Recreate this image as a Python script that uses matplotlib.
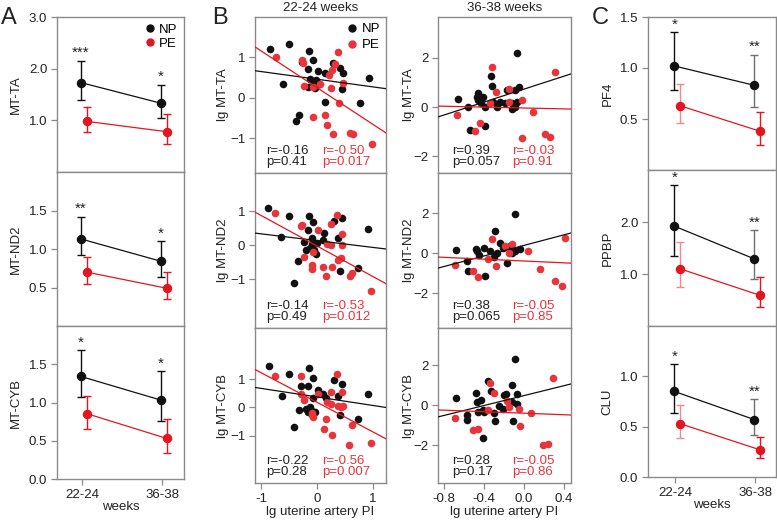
import matplotlib
matplotlib.use('Agg')
import matplotlib.pyplot as plt
from matplotlib.lines import Line2D
import numpy as np

plt.rcParams['font.family'] = ['Liberation Sans', 'DejaVu Sans']

# ---------------- data ----------------
weeks = ['22-24', '36-38']

# Panel A (mean, lower, upper) per gene, per week
a_genes = ['MT-TA', 'MT-ND2', 'MT-CYB']
a_np_mean = [[1.73, 1.33], [1.13, 0.84], [1.34, 1.03]]
a_np_low = [[1.39, 1.04], [0.92, 0.64], [1.07, 0.76]]
a_np_high = [[2.15, 1.69], [1.42, 1.10], [1.68, 1.41]]
a_pe_mean = [[0.98, 0.78], [0.70, 0.49], [0.855, 0.53]]
a_pe_low = [[0.77, 0.55], [0.55, 0.35], [0.66, 0.34]]
a_pe_high = [[1.25, 1.12], [0.90, 0.70], [1.09, 0.79]]
a_stars = [['***', '*'], ['**', '*'], ['*', '*']]
a_ylims = [(0, 3.0), (0, 2.0), (0, 2.0)]
a_yticks = [[1.0, 2.0, 3.0], [0.5, 1.0, 1.5], [0.0, 0.5, 1.0, 1.5]]

# Panel C
c_genes = ['PF4', 'PPBP', 'CLU']
c_np_mean = [[1.02, 0.83], [1.92, 1.29], [0.85, 0.57]]
c_np_low = [[0.78, 0.62], [1.35, 0.90], [0.64, 0.42]]
c_np_high = [[1.35, 1.13], [2.71, 1.84], [1.12, 0.77]]
c_pe_mean = [[0.63, 0.38], [1.10, 0.59], [0.53, 0.27]]
c_pe_low = [[0.46, 0.25], [0.75, 0.37], [0.39, 0.19]]
c_pe_high = [[0.84, 0.57], [1.61, 0.94], [0.72, 0.40]]
c_stars = [['*', '**'], ['*', '**'], ['*', '**']]
c_ylims = [(0, 1.5), (0, 3.0), (0, 1.5)]
c_yticks = [[0.5, 1.0, 1.5], [1.0, 2.0], [0.0, 0.5, 1.0]]

# Panel B scatter data: lg uterine artery PI (x) vs lg gene (y)
b_genes = ['lg MT-TA', 'lg MT-ND2', 'lg MT-CYB']

# 22-24 weeks
ta22_np_x = [-0.84, -0.50, -0.61, -0.14, -0.07, -0.16, 0.02, 0.14, -0.12, -0.07, -0.16, -0.04, 0.14,
             -0.32, -0.38, -0.27, 0.29, 0.41, 0.46, 0.45, 0.93, 0.77, -0.02, -0.05, 0.04]
ta22_np_y = [1.21, 1.33, 0.35, 1.16, 0.94, 0.72, 0.67, 0.62, 0.47, 0.42, 0.27, 0.25, -0.10,
             -0.42, -0.57, 0.89, 0.86, 0.74, 0.62, 0.22, 0.49, -0.12, 0.44, 0.30, 0.35]
ta22_pe_x = [-0.73, -0.27, -0.25, -0.23, -0.07, 0.05, -0.07, 0.14, 0.18, 0.21, 0.38, 0.27, 0.32,
             0.25, 0.46, 0.39, 0.29, 0.59, 0.64, 0.98]
ta22_pe_y = [1.02, 0.94, 0.86, 0.30, 0.27, 0.35, -0.47, -0.42, -0.67, 0.57, 1.13, 0.69, 0.83,
             0.25, 0.37, -0.12, -0.89, -0.86, -0.90, -1.14]

nd22_np_x = [-0.87, -0.64, -0.50, -0.14, -0.07, -0.16, -0.09, -0.23, -0.20, -0.12, -0.05, -0.02,
             0.00, 0.13, 0.11, 0.30, 0.45, 0.38, 0.91, 0.73, 0.41, -0.34, -0.41, -0.10]
nd22_np_y = [1.09, 0.24, 0.85, 0.85, 0.68, 0.44, 0.21, 0.09, -0.15, -0.09, -0.15, -0.26,
             0.06, 0.35, 0.15, 0.71, 0.79, 0.21, 0.47, -0.68, -0.76, -0.47, -1.12, 0.03]
nd22_pe_x = [-0.75, -0.29, -0.27, 0.02, 0.25, 0.36, 0.45, 0.18, 0.25, 0.45, -0.23, -0.07, 0.43,
             0.38, -0.09, -0.09, 0.11, 0.27, 0.16, 0.59, 0.63, 0.96]
nd22_pe_y = [0.94, 0.56, 0.60, 0.44, 0.62, 0.88, 0.32, 0.03, 0.00, 0.00, -0.35, -0.21, -0.38,
             -0.44, -0.59, -0.71, -0.65, -0.65, -0.91, -0.91, -0.82, -1.35]

cy22_np_x = [-0.86, -0.63, -0.50, -0.14, -0.07, -0.29, -0.16, 0.02, -0.07, 0.11, 0.16, 0.30, 0.45,
             0.38, 0.91, -0.32, -0.20, -0.12, -0.09, -0.03, -0.16, 0.41, 0.73, -0.41]
cy22_np_y = [1.44, 0.42, 1.19, 1.37, 1.05, 0.74, 0.74, 0.63, 0.35, 0.49, 0.32, 0.98, 0.84,
             0.42, 0.49, -0.10, -0.05, 0.00, -0.12, -0.17, -0.15, -0.25, -0.42, -0.70]
cy22_pe_x = [-0.75, -0.29, -0.23, -0.29, 0.02, 0.25, 0.36, 0.45, 0.18, 0.25, 0.38, 0.46, 0.42,
             -0.09, -0.07, -0.10, 0.16, 0.13, 0.27, 0.63, 0.57, 0.96]
cy22_pe_y = [1.12, 1.12, 0.25, 0.49, 0.49, 0.56, 1.19, 0.56, 0.18, 0.14, 0.07, 0.07, 0.00,
             -0.18, -0.32, -0.25, -0.39, -0.74, -0.98, -0.60, -1.33, -1.23]

# 36-38 weeks
ta36_np_x = [-0.66, -0.56, -0.47, -0.46, -0.54, -0.07, -0.33, -0.32, -0.46, -0.41, -0.43, -0.39,
             -0.31, -0.27, -0.24, -0.19, -0.17, -0.09, -0.05, -0.12, -0.07, -0.12, -0.09, -0.39]
ta36_np_y = [0.33, 0.00, 0.40, 0.29, -0.94, 2.20, 1.27, 0.86, 0.57, 0.41, 0.16, 0.00,
             0.20, 0.00, 0.20, 0.16, 0.69, 0.69, 0.82, 0.16, 0.20, -0.08, 0.00, -0.78]
ta36_pe_x = [-0.67, -0.49, -0.32, -0.28, -0.34, -0.15, -0.15, -0.02, 0.09, 0.31, -0.44, -0.02,
             0.21, 0.26]
ta36_pe_y = [-0.33, -0.98, 1.63, 0.61, 0.16, 0.73, 0.20, 0.29, -0.20, 1.43, -0.65, -1.27,
             -1.10, -1.22]

nd36_np_x = [-0.68, -0.57, -0.56, -0.48, -0.47, -0.09, -0.29, -0.24, -0.40, -0.34, -0.27, -0.21,
             -0.14, -0.09, -0.04, -0.17, -0.39, -0.12, -0.30, -0.45]
nd36_np_y = [0.15, -0.40, -0.90, 0.20, 0.10, 1.95, 1.10, 0.50, 0.25, 0.10, 0.00, 0.25,
             0.35, 0.10, 0.20, -0.50, -1.15, 0.00, -0.20, -0.10]
nd36_pe_x = [-0.69, -0.51, -0.46, -0.32, -0.19, -0.12, 0.04, 0.41, -0.36, -0.28, 0.16, 0.31,
             0.38, -0.15]
nd36_pe_y = [-0.60, -0.90, -1.20, 0.70, 0.35, 0.45, 0.10, 0.75, -0.30, -0.65, -0.80, -1.40,
             -1.65, 0.00]

cy36_np_x = [-0.68, -0.57, -0.57, -0.48, -0.47, -0.09, -0.36, -0.33, -0.43, -0.46, -0.41, -0.40,
             -0.30, -0.25, -0.21, -0.20, -0.18, -0.12, -0.07, -0.12, -0.07, -0.29, -0.11, -0.41]
cy36_np_y = [0.35, -0.50, -0.75, 0.60, 0.15, 2.30, 1.20, 0.70, 0.25, -0.35, -0.25, -0.35,
             -0.40, -0.05, -0.20, 0.50, 0.55, 1.00, 0.55, 0.15, 0.05, -0.80, -0.80, -1.65]
cy36_pe_x = [-0.69, -0.51, -0.46, -0.34, -0.30, -0.17, -0.15, -0.36, -0.05, 0.07, -0.04, 0.19,
             0.24, 0.29]
cy36_pe_y = [-0.65, -1.25, -1.20, 1.10, 0.60, 0.20, -0.10, -0.25, -0.20, -0.40, -1.05, -2.00,
             -1.95, 1.35]

# regression lines (slope, intercept) and stats (r, p)
b22_fit_np = [(-0.19, 0.46), (-0.20, 0.13), (-0.30, 0.37)]
b22_fit_pe = [(-0.91, 0.25), (-0.90, -0.03), (-1.04, 0.18)]
b36_fit_np = [(1.32, 0.73), (1.32, 0.38), (1.24, 0.47)]
b36_fit_pe = [(-0.09, -0.04), (-0.23, -0.40), (-0.19, -0.41)]
b22_stats_np = [('-0.16', '0.41'), ('-0.14', '0.49'), ('-0.22', '0.28')]
b22_stats_pe = [('-0.50', '0.017'), ('-0.53', '0.012'), ('-0.56', '0.007')]
b36_stats_np = [('0.39', '0.057'), ('0.38', '0.065'), ('0.28', '0.17')]
b36_stats_pe = [('-0.03', '0.91'), ('-0.05', '0.85'), ('-0.05', '0.86')]

b22_ylims = [(-1.86, 2.0), (-2.44, 2.12), (-2.65, 2.79)]
b36_ylims = [(-2.69, 3.67), (-3.75, 4.0), (-3.9, 3.85)]
b22_xticks = [-1, 0, 1]
b36_xticks = [-0.8, -0.4, 0.0, 0.4]

# ---------------- style ----------------
W, H = 777, 522
RED = '#E3161E'
RED_B = '#E8343B'
BLK = '#111111'
SPINE = '#8a8a8a'
TXT = '#222222'
FS = 9.5

fig = plt.figure(figsize=(W / 100, H / 100), dpi=100)


def add(l, t, r, b):
    return fig.add_axes([l / W, 1 - b / H, (r - l) / W, (b - t) / H])


def style(ax, bottom):
    for s in ax.spines.values():
        s.set_color(SPINE)
        s.set_linewidth(1.0)
    ax.tick_params(axis='both', direction='out', length=4.5, width=0.9, color=SPINE,
                   labelsize=FS, labelcolor=TXT, pad=2.5)
    ax.tick_params(axis='y', right=False)
    ax.tick_params(axis='x', top=False)
    if not bottom:
        ax.tick_params(axis='x', bottom=False, labelbottom=False)


NP_OFF, PE_OFF = -0.01, 0.06


def line_panel(ax, m1, lo1, hi1, m2, lo2, hi2, stars, np_ecols, pe_ecols):
    xs = np.arange(2)
    ax.plot(xs + NP_OFF, m1, color=BLK, lw=0.9, zorder=3)
    ax.plot(xs + PE_OFF, m2, color=RED, lw=0.9, zorder=3)
    for i in range(2):
        ax.errorbar(xs[i] + NP_OFF, m1[i], yerr=[[m1[i] - lo1[i]], [hi1[i] - m1[i]]],
                    fmt='none', ecolor=np_ecols[i], elinewidth=1.0, capsize=3.2, capthick=1.0, zorder=2)
        ax.errorbar(xs[i] + PE_OFF, m2[i], yerr=[[m2[i] - lo2[i]], [hi2[i] - m2[i]]],
                    fmt='none', ecolor=pe_ecols[i], elinewidth=1.0, capsize=3.2, capthick=1.0, zorder=2)
        ax.annotate(stars[i], xy=(xs[i] + NP_OFF, hi1[i]), xytext=(0, 0.5), textcoords='offset points',
                    ha='center', va='bottom', fontsize=11, color=TXT)
    ax.plot(xs + NP_OFF, m1, 'o', color=BLK, ms=5.8, zorder=4, ls='none')
    ax.plot(xs + PE_OFF, m2, 'o', color=RED, ms=5.8, zorder=4, ls='none')


# ---------------- Panel A ----------------
a_rows = [(17, 172), (172, 326), (326, 479)]
for k, (t, b) in enumerate(a_rows):
    ax = add(57, t, 184, b)
    line_panel(ax, a_np_mean[k], a_np_low[k], a_np_high[k], a_pe_mean[k], a_pe_low[k], a_pe_high[k],
               a_stars[k], [BLK, BLK], [RED, RED])
    ax.set_xlim(-0.31, 1.275)
    ax.set_ylim(*a_ylims[k])
    ax.set_yticks(a_yticks[k])
    ax.set_yticklabels(['%.1f' % v for v in a_yticks[k]])
    ax.set_ylabel(a_genes[k], fontsize=FS, color=TXT)
    ax.yaxis.set_label_coords(-0.28, 0.5)
    style(ax, k == 2)
    if k == 0:
        h = [Line2D([], [], marker='o', ls='none', color=BLK, ms=5),
             Line2D([], [], marker='o', ls='none', color=RED, ms=5)]
        ax.legend(h, ['NP', 'PE'], loc='upper right', frameon=False, fontsize=FS,
                  handlelength=0.6, handletextpad=0.4, labelspacing=0.15, borderaxespad=0.2,
                  borderpad=0.3)
    if k == 2:
        ax.set_xticks([0, 1])
        ax.set_xticklabels(weeks)
        ax.set_xlabel('weeks', fontsize=FS, color=TXT, labelpad=0)

# ---------------- Panel C ----------------
c_rows = [(17, 170), (170, 326), (326, 477)]
for k, (t, b) in enumerate(c_rows):
    ax = add(648, t, 776, b)
    line_panel(ax, c_np_mean[k], c_np_low[k], c_np_high[k], c_pe_mean[k], c_pe_low[k], c_pe_high[k],
               c_stars[k], [BLK, '#707070'], ['#F08A8A', RED])
    ax.set_xlim(-0.34, 1.26)
    ax.set_ylim(*c_ylims[k])
    ax.set_yticks(c_yticks[k])
    ax.set_yticklabels(['%.1f' % v for v in c_yticks[k]])
    ax.set_ylabel(c_genes[k], fontsize=FS, color=TXT)
    ax.yaxis.set_label_coords(-0.27, 0.5)
    style(ax, k == 2)
    if k == 2:
        ax.set_xticks([0, 1])
        ax.set_xticklabels(weeks)
        ax.set_xlabel('weeks', fontsize=FS, color=TXT, labelpad=0)

# ---------------- Panel B ----------------
b_rows = [(17, 173), (173, 328), (328, 483)]
b22_data = [(ta22_np_x, ta22_np_y, ta22_pe_x, ta22_pe_y),
            (nd22_np_x, nd22_np_y, nd22_pe_x, nd22_pe_y),
            (cy22_np_x, cy22_np_y, cy22_pe_x, cy22_pe_y)]
b36_data = [(ta36_np_x, ta36_np_y, ta36_pe_x, ta36_pe_y),
            (nd36_np_x, nd36_np_y, nd36_pe_x, nd36_pe_y),
            (cy36_np_x, cy36_np_y, cy36_pe_x, cy36_pe_y)]


def scatter_panel(ax, data, fnp, fpe, snp, spe, tx_np, tx_pe):
    nx, ny, px, py = data
    ax.scatter(nx, ny, s=30, color=BLK, linewidths=0, zorder=3)
    ax.scatter(px, py, s=30, color=RED_B, linewidths=0, zorder=3)
    ax.axline((0, fnp[1]), slope=fnp[0], color=BLK, lw=0.9, zorder=4)
    ax.axline((0, fpe[1]), slope=fpe[0], color=RED, lw=0.9, zorder=4)
    ax.text(tx_np, 0.142, 'r=' + snp[0], transform=ax.transAxes, fontsize=FS, color=TXT,
            ha='left', va='center')
    ax.text(tx_np, 0.068, 'p=' + snp[1], transform=ax.transAxes, fontsize=FS, color=TXT,
            ha='left', va='center')
    ax.text(tx_pe, 0.142, 'r=' + spe[0], transform=ax.transAxes, fontsize=FS, color=RED_B,
            ha='left', va='center')
    ax.text(tx_pe, 0.068, 'p=' + spe[1], transform=ax.transAxes, fontsize=FS, color=RED_B,
            ha='left', va='center')


for k, (t, b) in enumerate(b_rows):
    # 22-24 weeks
    ax = add(255, t, 386, b)
    scatter_panel(ax, b22_data[k], b22_fit_np[k], b22_fit_pe[k], b22_stats_np[k], b22_stats_pe[k],
                  0.085, 0.515)
    ax.set_xlim(-1.11, 1.23)
    ax.set_ylim(*b22_ylims[k])
    ax.set_yticks([-1, 0, 1])
    ax.set_ylabel(b_genes[k], fontsize=FS, color=TXT)
    ax.yaxis.set_label_coords(-0.20, 0.5)
    style(ax, k == 2)
    if k == 0:
        ax.set_title('22-24 weeks', fontsize=FS, color=TXT, pad=4)
        h = [Line2D([], [], marker='o', ls='none', color=BLK, ms=5),
             Line2D([], [], marker='o', ls='none', color=RED_B, ms=5)]
        ax.legend(h, ['NP', 'PE'], loc='upper right', frameon=False, fontsize=FS,
                  handlelength=0.6, handletextpad=0.4, labelspacing=0.3, borderaxespad=0.15,
                  borderpad=0.3)
    if k == 2:
        ax.set_xticks(b22_xticks)
        ax.set_xticklabels(['%d' % v for v in b22_xticks])
        ax.set_xlabel('lg uterine artery PI', fontsize=FS, color=TXT, labelpad=1)

    # 36-38 weeks
    ax = add(438, t, 571, b)
    scatter_panel(ax, b36_data[k], b36_fit_np[k], b36_fit_pe[k], b36_stats_np[k], b36_stats_pe[k],
                  0.105, 0.56)
    ax.set_xlim(-0.86, 0.47)
    ax.set_ylim(*b36_ylims[k])
    ax.set_yticks([-2, 0, 2])
    ax.set_ylabel(b_genes[k], fontsize=FS, color=TXT)
    ax.yaxis.set_label_coords(-0.17, 0.5)
    style(ax, k == 2)
    if k == 0:
        ax.set_title('36-38 weeks', fontsize=FS, color=TXT, pad=4)
    if k == 2:
        ax.set_xticks(b36_xticks)
        ax.set_xticklabels(['%.1f' % v for v in b36_xticks])
        ax.set_xlabel('lg uterine artery PI', fontsize=FS, color=TXT, labelpad=1)

# panel letters
for lab, px in [('A', 8.5), ('B', 220), ('C', 600)]:
    fig.text(px / W, 1 - 17.5 / H, lab, fontsize=17, ha='center', va='center', color=TXT)

fig.savefig('out.png', dpi=100)
